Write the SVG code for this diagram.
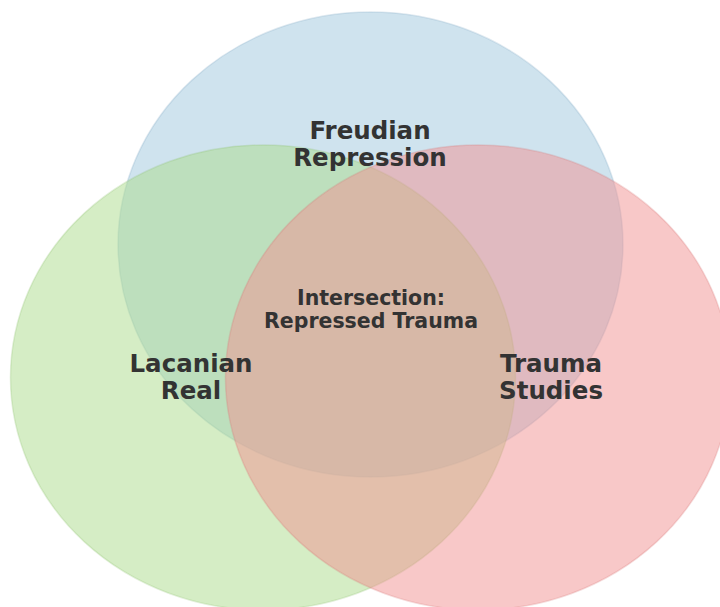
<svg xmlns="http://www.w3.org/2000/svg" width="720" height="607" viewBox="0 0 720 607">
<style>
.set{fill-opacity:0.5;stroke-opacity:0.25;stroke-width:1.5}
.lbl{font-family:"DejaVu Sans",sans-serif;font-weight:bold;fill:#333333;text-anchor:middle}
.big{font-size:24.5px}
.mid{font-size:20.5px}
</style>
<rect width="720" height="607" fill="#ffffff"/>
<g id="freudian">
<ellipse class="set" cx="370.5" cy="244.5" rx="252.5" ry="232.5" fill="#9fc7dd" stroke="#7fa9c4"/>
</g>
<g id="lacanian">
<ellipse class="set" cx="263" cy="377.5" rx="252.5" ry="232.5" fill="#abdb8b" stroke="#8cc06c"/>
</g>
<g id="trauma">
<ellipse class="set" cx="478" cy="377.5" rx="252.5" ry="232.5" fill="#f19191" stroke="#d87474"/>
</g>
<g id="connectors"></g>
<g id="labels">
<text class="lbl big" x="370" y="139">Freudian</text>
<text class="lbl big" x="370" y="166">Repression</text>
<text class="lbl big" x="191" y="372">Lacanian</text>
<text class="lbl big" x="191" y="399">Real</text>
<text class="lbl big" x="551" y="372">Trauma</text>
<text class="lbl big" x="551" y="399">Studies</text>
<text class="lbl mid" x="371" y="305">Intersection:</text>
<text class="lbl mid" x="371" y="328">Repressed Trauma</text>
</g>
</svg>
